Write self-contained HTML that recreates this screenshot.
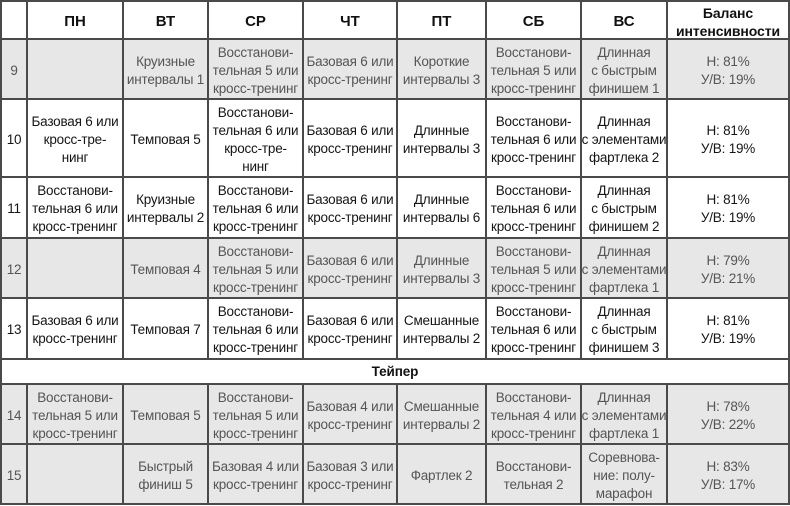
<!DOCTYPE html>
<html><head><meta charset="utf-8">
<style>
html,body{margin:0;padding:0;background:#fff;}
#t{position:relative;width:790px;height:506px;overflow:hidden;background:#fff;font-family:"Liberation Sans","DejaVu Sans",sans-serif;}
.bg{position:absolute;background:#e7e7e7;}
.v{position:absolute;width:2px;background:#4a4a4a;}
.h{position:absolute;height:2px;background:#4a4a4a;}
.c{position:absolute;display:flex;align-items:center;justify-content:center;text-align:center;white-space:nowrap;font-size:13.5px;letter-spacing:-0.2px;line-height:18px;color:#151515;padding-top:3px;box-sizing:border-box;}
.g{color:#555;}
.hd{font-weight:bold;font-size:15px;letter-spacing:0;color:#111;}
.hb{font-weight:bold;font-size:14px;letter-spacing:-0.1px;color:#111;}
</style></head><body>
<div id="t">
<!-- gray backgrounds -->
<div class="bg" style="left:0;top:39px;width:790px;height:60px"></div>
<div class="bg" style="left:0;top:238px;width:790px;height:60px"></div>
<div class="bg" style="left:0;top:384px;width:790px;height:120px"></div>

<!-- horizontal lines -->
<div class="h" style="left:0;top:0;width:790px"></div>
<div class="h" style="left:0;top:38px;width:790px"></div>
<div class="h" style="left:0;top:98px;width:790px"></div>
<div class="h" style="left:0;top:176px;width:790px"></div>
<div class="h" style="left:0;top:237px;width:790px"></div>
<div class="h" style="left:0;top:297px;width:790px"></div>
<div class="h" style="left:0;top:358px;width:790px"></div>
<div class="h" style="left:0;top:383px;width:790px"></div>
<div class="h" style="left:0;top:443px;width:790px"></div>
<div class="h" style="left:0;top:503px;width:790px"></div>

<!-- vertical outer -->
<div class="v" style="left:0;top:0;height:505px"></div>
<div class="v" style="left:788px;top:0;height:505px"></div>
<!-- vertical inner (top part) -->
<div class="v" style="left:26px;top:0;height:360px"></div>
<div class="v" style="left:122px;top:0;height:360px"></div>
<div class="v" style="left:207px;top:0;height:360px"></div>
<div class="v" style="left:302px;top:0;height:360px"></div>
<div class="v" style="left:396px;top:0;height:360px"></div>
<div class="v" style="left:485px;top:0;height:360px"></div>
<div class="v" style="left:580px;top:0;height:360px"></div>
<div class="v" style="left:666px;top:0;height:360px"></div>
<!-- vertical inner (bottom part) -->
<div class="v" style="left:26px;top:383px;height:122px"></div>
<div class="v" style="left:122px;top:383px;height:122px"></div>
<div class="v" style="left:207px;top:383px;height:122px"></div>
<div class="v" style="left:302px;top:383px;height:122px"></div>
<div class="v" style="left:396px;top:383px;height:122px"></div>
<div class="v" style="left:485px;top:383px;height:122px"></div>
<div class="v" style="left:580px;top:383px;height:122px"></div>
<div class="v" style="left:666px;top:383px;height:122px"></div>

<!-- header -->
<div class="c hd" style="left:27px;top:1px;width:96px;height:38px">ПН</div>
<div class="c hd" style="left:123px;top:1px;width:85px;height:38px">ВТ</div>
<div class="c hd" style="left:208px;top:1px;width:95px;height:38px">СР</div>
<div class="c hd" style="left:303px;top:1px;width:94px;height:38px">ЧТ</div>
<div class="c hd" style="left:397px;top:1px;width:89px;height:38px">ПТ</div>
<div class="c hd" style="left:486px;top:1px;width:95px;height:38px">СБ</div>
<div class="c hd" style="left:581px;top:1px;width:86px;height:38px">ВС</div>
<div class="c hb" style="left:667px;top:1px;width:122px;height:38px">Баланс<br>интенсивности</div>

<!-- row 9 -->
<div class="c g" style="left:1px;top:39px;width:26px;height:60px">9</div>
<div class="c g" style="left:123px;top:39px;width:85px;height:60px">Круизные<br>интервалы 1</div>
<div class="c g" style="left:208px;top:39px;width:95px;height:60px">Восстанови-<br>тельная 5 или<br>кросс-тренинг</div>
<div class="c g" style="left:303px;top:39px;width:94px;height:60px">Базовая 6 или<br>кросс-тренинг</div>
<div class="c g" style="left:397px;top:39px;width:89px;height:60px">Короткие<br>интервалы 3</div>
<div class="c g" style="left:486px;top:39px;width:95px;height:60px">Восстанови-<br>тельная 5 или<br>кросс-тренинг</div>
<div class="c g" style="left:581px;top:39px;width:86px;height:60px">Длинная<br>с быстрым<br>финишем 1</div>
<div class="c g" style="left:667px;top:39px;width:122px;height:60px">Н: 81%<br>У/В: 19%</div>

<!-- row 10 -->
<div class="c" style="left:1px;top:99px;width:26px;height:78px">10</div>
<div class="c" style="left:27px;top:99px;width:96px;height:78px">Базовая 6 или<br>кросс-тре-<br>нинг</div>
<div class="c" style="left:123px;top:99px;width:85px;height:78px">Темповая 5</div>
<div class="c" style="left:208px;top:99px;width:95px;height:78px">Восстанови-<br>тельная 6 или<br>кросс-тре-<br>нинг</div>
<div class="c" style="left:303px;top:99px;width:94px;height:78px">Базовая 6 или<br>кросс-тренинг</div>
<div class="c" style="left:397px;top:99px;width:89px;height:78px">Длинные<br>интервалы 3</div>
<div class="c" style="left:486px;top:99px;width:95px;height:78px">Восстанови-<br>тельная 6 или<br>кросс-тренинг</div>
<div class="c" style="left:581px;top:99px;width:86px;height:78px">Длинная<br>с элементами<br>фартлека 2</div>
<div class="c" style="left:667px;top:99px;width:122px;height:78px">Н: 81%<br>У/В: 19%</div>

<!-- row 11 -->
<div class="c" style="left:1px;top:177px;width:26px;height:61px">11</div>
<div class="c" style="left:27px;top:177px;width:96px;height:61px">Восстанови-<br>тельная 6 или<br>кросс-тренинг</div>
<div class="c" style="left:123px;top:177px;width:85px;height:61px">Круизные<br>интервалы 2</div>
<div class="c" style="left:208px;top:177px;width:95px;height:61px">Восстанови-<br>тельная 6 или<br>кросс-тренинг</div>
<div class="c" style="left:303px;top:177px;width:94px;height:61px">Базовая 6 или<br>кросс-тренинг</div>
<div class="c" style="left:397px;top:177px;width:89px;height:61px">Длинные<br>интервалы 6</div>
<div class="c" style="left:486px;top:177px;width:95px;height:61px">Восстанови-<br>тельная 6 или<br>кросс-тренинг</div>
<div class="c" style="left:581px;top:177px;width:86px;height:61px">Длинная<br>с быстрым<br>финишем 2</div>
<div class="c" style="left:667px;top:177px;width:122px;height:61px">Н: 81%<br>У/В: 19%</div>

<!-- row 12 -->
<div class="c g" style="left:1px;top:238px;width:26px;height:60px">12</div>
<div class="c g" style="left:123px;top:238px;width:85px;height:60px">Темповая 4</div>
<div class="c g" style="left:208px;top:238px;width:95px;height:60px">Восстанови-<br>тельная 5 или<br>кросс-тренинг</div>
<div class="c g" style="left:303px;top:238px;width:94px;height:60px">Базовая 6 или<br>кросс-тренинг</div>
<div class="c g" style="left:397px;top:238px;width:89px;height:60px">Длинные<br>интервалы 3</div>
<div class="c g" style="left:486px;top:238px;width:95px;height:60px">Восстанови-<br>тельная 5 или<br>кросс-тренинг</div>
<div class="c g" style="left:581px;top:238px;width:86px;height:60px">Длинная<br>с элементами<br>фартлека 1</div>
<div class="c g" style="left:667px;top:238px;width:122px;height:60px">Н: 79%<br>У/В: 21%</div>

<!-- row 13 -->
<div class="c" style="left:1px;top:298px;width:26px;height:61px">13</div>
<div class="c" style="left:27px;top:298px;width:96px;height:61px">Базовая 6 или<br>кросс-тренинг</div>
<div class="c" style="left:123px;top:298px;width:85px;height:61px">Темповая 7</div>
<div class="c" style="left:208px;top:298px;width:95px;height:61px">Восстанови-<br>тельная 6 или<br>кросс-тренинг</div>
<div class="c" style="left:303px;top:298px;width:94px;height:61px">Базовая 6 или<br>кросс-тренинг</div>
<div class="c" style="left:397px;top:298px;width:89px;height:61px">Смешанные<br>интервалы 2</div>
<div class="c" style="left:486px;top:298px;width:95px;height:61px">Восстанови-<br>тельная 6 или<br>кросс-тренинг</div>
<div class="c" style="left:581px;top:298px;width:86px;height:61px">Длинная<br>с быстрым<br>финишем 3</div>
<div class="c" style="left:667px;top:298px;width:122px;height:61px">Н: 81%<br>У/В: 19%</div>

<!-- taper -->
<div class="c hb" style="left:1px;top:359px;width:788px;height:25px;font-size:13.5px;padding-top:1px">Тейпер</div>

<!-- row 14 -->
<div class="c g" style="left:1px;top:384px;width:26px;height:60px">14</div>
<div class="c g" style="left:27px;top:384px;width:96px;height:60px">Восстанови-<br>тельная 5 или<br>кросс-тренинг</div>
<div class="c g" style="left:123px;top:384px;width:85px;height:60px">Темповая 5</div>
<div class="c g" style="left:208px;top:384px;width:95px;height:60px">Восстанови-<br>тельная 5 или<br>кросс-тренинг</div>
<div class="c g" style="left:303px;top:384px;width:94px;height:60px">Базовая 4 или<br>кросс-тренинг</div>
<div class="c g" style="left:397px;top:384px;width:89px;height:60px">Смешанные<br>интервалы 2</div>
<div class="c g" style="left:486px;top:384px;width:95px;height:60px">Восстанови-<br>тельная 4 или<br>кросс-тренинг</div>
<div class="c g" style="left:581px;top:384px;width:86px;height:60px">Длинная<br>с элементами<br>фартлека 1</div>
<div class="c g" style="left:667px;top:384px;width:122px;height:60px">Н: 78%<br>У/В: 22%</div>

<!-- row 15 -->
<div class="c g" style="left:1px;top:444px;width:26px;height:60px">15</div>
<div class="c g" style="left:123px;top:444px;width:85px;height:60px">Быстрый<br>финиш 5</div>
<div class="c g" style="left:208px;top:444px;width:95px;height:60px">Базовая 4 или<br>кросс-тренинг</div>
<div class="c g" style="left:303px;top:444px;width:94px;height:60px">Базовая 3 или<br>кросс-тренинг</div>
<div class="c g" style="left:397px;top:444px;width:89px;height:60px">Фартлек 2</div>
<div class="c g" style="left:486px;top:444px;width:95px;height:60px">Восстанови-<br>тельная 2</div>
<div class="c g" style="left:581px;top:444px;width:86px;height:60px">Соревнова-<br>ние: полу-<br>марафон</div>
<div class="c g" style="left:667px;top:444px;width:122px;height:60px">Н: 83%<br>У/В: 17%</div>
</div>
</body></html>
